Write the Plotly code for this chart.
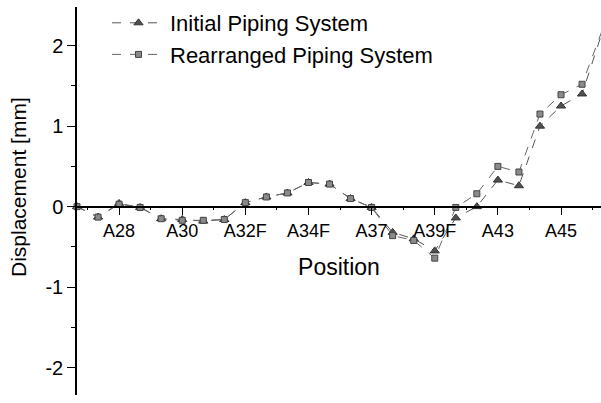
import plotly.graph_objects as go

node_index = list(range(26))
initial = [0, -0.13, 0.04, -0.01, -0.15, -0.16, -0.18, -0.16, 0.05, 0.12, 0.17, 0.30, 0.28, 0.10,
           -0.01, -0.32, -0.40, -0.55, -0.14, 0.00, 0.33, 0.26, 1.00, 1.25, 1.40, 2.20]
rearranged = [0, -0.13, 0.03, -0.01, -0.15, -0.17, -0.17, -0.16, 0.05, 0.12, 0.17, 0.30, 0.28, 0.10,
              -0.01, -0.36, -0.42, -0.64, -0.01, 0.16, 0.50, 0.43, 1.15, 1.39, 1.52, 2.22]
tick_index = [2, 5, 8, 11, 14, 17, 20, 23]
tick_labels = ["A28", "A30", "A32F", "A34F", "A37", "A39F", "A43", "A45"]
minor_index = [0.5, 3.5, 6.5, 9.5, 12.5, 15.5, 18.5, 21.5, 24.5]

FONT = "Liberation Sans, Arial, sans-serif"
y_lo, y_hi = -2.34, 2.48
L, T, B = 77, 7, 8
PW, PH = 601 - L, 403 - T - B

fig = go.Figure()
fig.add_trace(go.Scatter(
    x=node_index, y=initial, mode="lines+markers", name="Initial Piping System",
    line=dict(color="#555555", width=1, dash="dash"),
    marker=dict(symbol="triangle-up", size=8, color="#505050", line=dict(color="#333333", width=1)),
    cliponaxis=False))
fig.add_trace(go.Scatter(
    x=node_index, y=rearranged, mode="lines+markers", name="Rearranged Piping System",
    line=dict(color="#666666", width=1, dash="dash"),
    marker=dict(symbol="square", size=6, color="#8a8a8a", line=dict(color="#444444", width=1)),
    cliponaxis=False))

fig.update_layout(
    width=601, height=403,
    margin=dict(l=L, r=0, t=T, b=B),
    paper_bgcolor="white", plot_bgcolor="white",
    font=dict(family=FONT, size=18, color="black"),
    showlegend=True,
    legend=dict(x=(107 - L) / PW, y=1.0 + 5 / PH, xanchor="left", yanchor="top",
                bgcolor="rgba(0,0,0,0)", font=dict(size=22), itemwidth=53, tracegroupgap=0),
    xaxis=dict(range=[0, 24.9], anchor="free", position=-y_lo / (y_hi - y_lo),
               showline=True, linecolor="black", linewidth=1.5, showgrid=False, zeroline=False,
               tickmode="array", tickvals=tick_index, ticktext=tick_labels,
               ticks="outside", ticklen=8, tickwidth=1, tickcolor="black",
               minor=dict(tickmode="array", tickvals=minor_index, ticks="outside", ticklen=3,
                          tickcolor="black", showgrid=False),
               title=dict(text="Position", font=dict(size=23), standoff=18),
               tickfont=dict(size=18)),
    yaxis=dict(range=[y_lo, y_hi], showline=True, linecolor="black", linewidth=1.5,
               showgrid=False, zeroline=False, tickvals=[-2, -1, 0, 1, 2],
               ticktext=["-2", "-1", "0", "1", "2"],
               ticks="outside", ticklen=8, tickwidth=1, tickcolor="black",
               minor=dict(dtick=0.5, ticks="outside", ticklen=4, tickcolor="black", showgrid=False),
               tickfont=dict(size=20)),
    annotations=[dict(text="Displacement [mm]", textangle=-90, xref="paper", yref="paper",
                      x=(18 - L) / PW, y=(403 - B - 187) / PH, xanchor="center", yanchor="middle",
                      showarrow=False, font=dict(size=21))],
)

fig.write_html("out.html", config={"displayModeBar": False},
               post_script="document.body.style.margin='0';")
